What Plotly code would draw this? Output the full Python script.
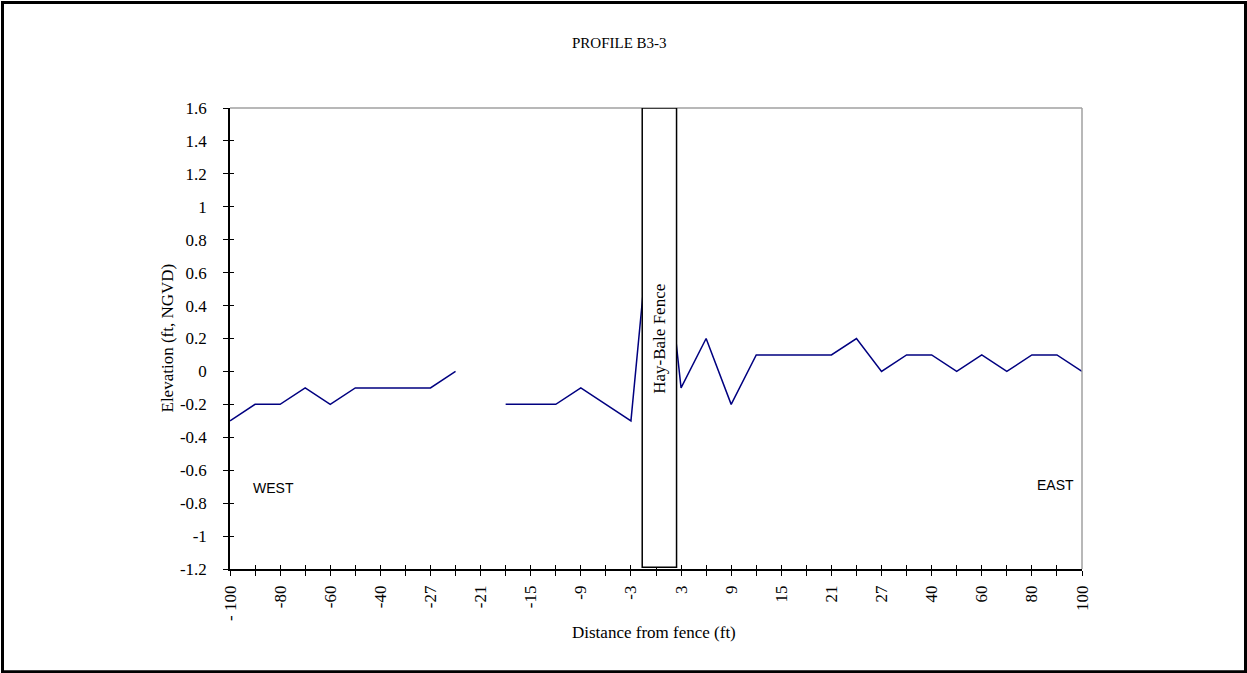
import plotly.graph_objects as go

# Data
distance_ft = [-100, -90, -80, -70, -60, -50, -40, -30, -27, -24, -21, -18, -15, -12, -9, -6, -3, 0,
               3, 6, 9, 12, 15, 18, 21, 24, 27, 30, 40, 50, 60, 70, 80, 90, 100]
elevation_ft = [-0.3, -0.2, -0.2, -0.1, -0.2, -0.1, -0.1, -0.1, -0.1, 0.0, None, -0.2, -0.2, -0.2, -0.1, -0.2, -0.3, 1.3,
                -0.1, 0.2, -0.2, 0.1, 0.1, 0.1, 0.1, 0.2, 0.0, 0.1, 0.1, 0.0, 0.1, 0.0, 0.1, 0.1, 0.0]
labeled_ticks = [-100, -80, -60, -40, -27, -21, -15, -9, -3, 3, 9, 15, 21, 27, 40, 60, 80, 100]
y_ticks = [-1.2, -1, -0.8, -0.6, -0.4, -0.2, 0, 0.2, 0.4, 0.6, 0.8, 1, 1.2, 1.4, 1.6]
y_ticklabels = ["-1.2", "-1", "-0.8", "-0.6", "-0.4", "-0.2", "0", "0.2", "0.4", "0.6", "0.8",
                "1", "1.2", "1.4", "1.6"]

idx = list(range(len(distance_ft)))


def lab(v):
    if v not in labeled_ticks:
        return ""
    if v == -100:
        return "-\u00a0100"
    return str(v)


ticktext = [lab(v) for v in distance_ft]

SERIF = "Liberation Serif, Times New Roman, serif"
SANS = "Liberation Sans, Arial, sans-serif"

L, R, T, B = 230, 1082, 108, 569
PW, PH = R - L, B - T


def px(xp):
    return (xp - L) / PW


def py(yp):
    return (B - yp) / PH


fig = go.Figure()
fig.add_trace(go.Scatter(x=idx, y=elevation_ft, mode="lines", connectgaps=False,
                         line=dict(color="#000080", width=1.5), showlegend=False,
                         hoverinfo="skip"))
fig.add_trace(go.Scatter(x=[0], y=[0], xaxis="x2", yaxis="y2", mode="markers",
                         marker=dict(opacity=0), showlegend=False, hoverinfo="skip"))

fig.update_layout(
    width=1247, height=673,
    margin=dict(l=L, r=1247 - R, t=T, b=673 - B),
    paper_bgcolor="white", plot_bgcolor="white",
    font=dict(family=SERIF, size=17, color="black"),
    xaxis=dict(range=[0, 34], tickmode="array", tickvals=idx, ticktext=ticktext,
               tickangle=-90, ticks="outside", ticklen=5, tickwidth=1.3, tickcolor="black",
               showline=True, linecolor="black", linewidth=1.5, showgrid=False, zeroline=False,
               ticklabelstandoff=3, tickfont=dict(family=SERIF, size=17)),
    yaxis=dict(range=[-1.2, 1.6], tickmode="array", tickvals=y_ticks, ticktext=y_ticklabels,
               ticks="outside", ticklen=5, tickwidth=1.3, tickcolor="black",
               showline=True, linecolor="black", linewidth=1.5, showgrid=False, zeroline=False,
               ticklabelstandoff=13, tickfont=dict(family=SERIF, size=17)),
    xaxis2=dict(range=[0, 34], overlaying="x", anchor="y2", side="bottom", tickmode="array",
                tickvals=idx, showticklabels=False, ticks="inside", ticklen=4, tickwidth=1.3,
                tickcolor="black", showline=False, showgrid=False, zeroline=False),
    yaxis2=dict(range=[-1.2, 1.6], overlaying="y", anchor="x2", side="left", tickmode="array",
                tickvals=y_ticks, showticklabels=False, ticks="inside", ticklen=4, tickwidth=1.3,
                tickcolor="black", showline=False, showgrid=False, zeroline=False),
    showlegend=False,
)

shapes = []
shapes.append(dict(type="rect", xref="paper", yref="paper",
                   x0=px(2.5), x1=px(1245.5), y0=py(671.7), y1=py(2.5),
                   line=dict(color="black", width=3), fillcolor="rgba(0,0,0,0)", layer="above"))
shapes.append(dict(type="line", xref="paper", yref="paper", x0=0, x1=1, y0=1, y1=1,
                   line=dict(color="#a0a0a0", width=1.5)))
shapes.append(dict(type="line", xref="paper", yref="paper", x0=1, x1=1, y0=0, y1=1,
                   line=dict(color="#a0a0a0", width=1.5)))
shapes.append(dict(type="rect", xref="x", yref="y", x0=16.45, x1=17.82, y0=-1.19, y1=1.6,
                   line=dict(color="black", width=1.5), fillcolor="white", layer="above"))
fig.update_layout(shapes=shapes)

fig.add_annotation(x=px(619), y=py(42.5), xref="paper", yref="paper", text="PROFILE B3-3",
                   showarrow=False, xanchor="center", yanchor="middle",
                   font=dict(family=SERIF, size=15, color="black"))
fig.add_annotation(x=17.13, y=0.2, xref="x", yref="y", text="Hay-Bale Fence", textangle=-90,
                   showarrow=False, font=dict(family=SERIF, size=17, color="black"))
fig.add_annotation(x=1.75, y=-0.708, xref="x", yref="y", text="WEST", showarrow=False,
                   font=dict(family=SANS, size=14, color="black"))
fig.add_annotation(x=32.93, y=-0.692, xref="x", yref="y", text="EAST", showarrow=False,
                   font=dict(family=SANS, size=14, color="black"))
fig.add_annotation(x=px(654), y=py(632), xref="paper", yref="paper", text="Distance from fence (ft)",
                   showarrow=False, xanchor="center", yanchor="middle",
                   font=dict(family=SERIF, size=17, color="black"))
fig.add_annotation(x=px(167), y=0.5, xref="paper", yref="paper", text="Elevation (ft, NGVD)",
                   textangle=-90, showarrow=False, xanchor="center", yanchor="middle",
                   font=dict(family=SERIF, size=17, color="black"))

fig.write_html("out.html", config={"displayModeBar": False},
               post_script="document.body.style.margin='0';document.body.style.padding='0';")
